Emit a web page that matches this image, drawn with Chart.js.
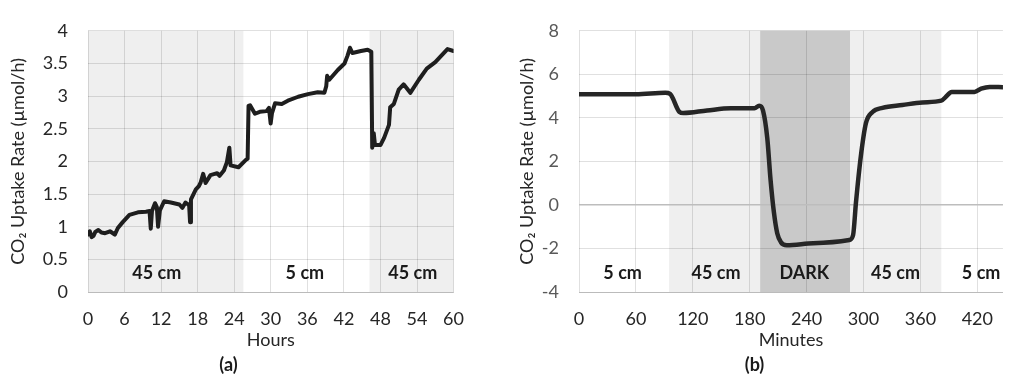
<!DOCTYPE html>
<html>
<head>
<meta charset="utf-8">
<script src="https://cdn.jsdelivr.net/npm/chart.js@4/dist/chart.umd.min.js"></script>
<style>
  html, body { margin: 0; padding: 0; background: #fff; width: 1009px; height: 376px; overflow: hidden; }
  canvas { position: absolute; top: 0; }
  #ca { left: 0; }
  #cb { left: 500px; }
</style>
</head>
<body>
<canvas id="ca" width="480" height="376"></canvas>
<canvas id="cb" width="509" height="376"></canvas>
<script>
// ---------- Chart (a) data ----------
const hoursA = [0, 0.3, 0.6, 0.9, 1.2, 1.7, 2.2, 2.8, 3.6, 4.4, 4.9, 5.7, 6.8, 8.2, 9.5, 10.1, 10.3, 10.5, 11.0, 11.3,
  11.5, 11.8, 12.5, 13.6, 15.0, 15.5, 16.0, 16.6, 16.75, 16.9, 17.7, 18.2, 18.5, 18.9, 19.3, 20.1, 21.2, 21.6, 22.3, 22.8,
  23.2, 23.4, 24.7, 26.0, 26.2, 26.35, 26.6, 27.4, 28.2, 29.3, 29.7, 29.98, 30.2, 30.7, 31.8, 32.8, 34.5, 36.1, 37.7, 38.8,
  39.1, 39.25, 39.6, 41.0, 42.1, 42.6, 43.0, 43.4, 44.8, 45.9, 46.5, 46.65, 46.9, 47.1, 48.0, 48.6, 49.4, 49.6, 50.2, 51.0,
  51.8, 52.9, 54.3, 55.6, 57.0, 58.0, 59.0, 60.0];
const rateA = [0.88, 0.93, 0.84, 0.86, 0.92, 0.95, 0.91, 0.90, 0.93, 0.88, 0.98, 1.07, 1.18, 1.22, 1.23, 1.24, 0.97, 1.24, 1.36, 1.30,
  1.00, 1.25, 1.39, 1.37, 1.34, 1.29, 1.37, 1.33, 1.07, 1.42, 1.57, 1.62, 1.68, 1.81, 1.67, 1.79, 1.82, 1.78, 1.86, 1.99,
  2.21, 1.94, 1.91, 2.03, 2.04, 2.85, 2.86, 2.73, 2.76, 2.77, 2.82, 2.58, 2.74, 2.89, 2.88, 2.93, 2.99, 3.03, 3.06, 3.05,
  3.15, 3.31, 3.25, 3.40, 3.50, 3.62, 3.74, 3.66, 3.69, 3.71, 3.68, 2.21, 2.43, 2.25, 2.25, 2.36, 2.56, 2.83, 2.88, 3.10,
  3.18, 3.05, 3.25, 3.42, 3.52, 3.62, 3.72, 3.69];
const xTicksA = [0, 6, 12, 18, 24, 30, 36, 42, 48, 54, 60];
const yTicksA = [0, 0.5, 1, 1.5, 2, 2.5, 3, 3.5, 4];
const bandStartA = [0, 25.5, 46.2];
const bandEndA = [25.5, 46.2, 60];
const bandKindA = ['light', 'none', 'light'];
const bandLabelA = ['45 cm', '5 cm', '45 cm'];
const bandLabelXA = [11.3, 35.6, 53.3];

// ---------- Chart (b) data ----------
const minutesB = [0, 30, 60, 91, 96, 106, 110, 135, 160, 185, 190, 194, 198.5, 202, 205.5, 209, 213, 219, 247, 285,
  289, 292, 297, 302.5, 309.5, 320, 341, 362, 382, 386, 393, 417, 424, 433, 447];
const rateB = [5.08, 5.08, 5.08, 5.15, 5.10, 4.27, 4.22, 4.34, 4.44, 4.44, 4.56, 4.34, 3.08, 1.14, -0.34, -1.30, -1.72, -1.85, -1.76, -1.61,
  -1.38, 0.10, 2.18, 3.75, 4.27, 4.46, 4.59, 4.71, 4.79, 4.93, 5.19, 5.19, 5.34, 5.42, 5.41];
const xTicksB = [0, 60, 120, 180, 240, 300, 360, 420];
const yTicksB = [-4, -2, 0, 2, 4, 6, 8];
const bandStartB = [0, 95, 191, 286, 382];
const bandEndB = [95, 191, 286, 382, 447];
const bandKindB = ['none', 'light', 'dark', 'light', 'none'];
const bandLabelB = ['5 cm', '45 cm', 'DARK', '45 cm', '5 cm'];
const bandLabelXB = [46, 144.5, 237.6, 333.8, 424];

const FONT = 'Lato, "Open Sans", "DejaVu Sans", sans-serif';
const bandColors = { light: '#efefef', dark: '#c9c9c9', none: null };

function bandsPlugin(starts, ends, kinds, labels, labelXs) {
  return {
    id: 'bands',
    beforeDraw(chart) {
      const { ctx, chartArea } = chart;
      const xs = chart.scales.x;
      ctx.save();
      for (let i = 0; i < starts.length; i++) {
        const c = bandColors[kinds[i]];
        if (!c) continue;
        const x0 = xs.getPixelForValue(starts[i]);
        const x1 = xs.getPixelForValue(ends[i]);
        ctx.fillStyle = c;
        ctx.fillRect(x0, chartArea.top, x1 - x0, chartArea.bottom - chartArea.top);
      }
      ctx.restore();
    },
    afterDatasetsDraw(chart) {
      const { ctx, chartArea } = chart;
      const xs = chart.scales.x;
      ctx.save();
      ctx.font = 'bold 18px ' + FONT;
      ctx.fillStyle = '#1a1a1a';
      ctx.textAlign = 'center';
      ctx.textBaseline = 'middle';
      for (let i = 0; i < labels.length; i++) {
        ctx.fillText(labels[i], xs.getPixelForValue(labelXs[i]), chartArea.bottom - 19);
      }
      ctx.restore();
    }
  };
}

function makeChart(id, opts) {
  const pts = opts.xs.map((x, i) => ({ x: x, y: opts.ys[i] }));
  return new Chart(document.getElementById(id), {
    type: 'line',
    data: { datasets: [{
      data: pts,
      borderColor: opts.lineColor,
      borderWidth: opts.lineWidth,
      borderJoinStyle: 'round',
      borderCapStyle: 'round',
      pointRadius: 0,
      tension: opts.smooth ? 0.4 : 0,
      cubicInterpolationMode: opts.smooth ? 'monotone' : 'default',
      fill: false
    }] },
    options: {
      responsive: false,
      animation: false,
      layout: { padding: { top: 23, right: opts.padRight, left: 0, bottom: 0 } },
      plugins: {
        legend: { display: false },
        tooltip: { enabled: false },
        title: {
          display: true, position: 'bottom', text: opts.caption,
          color: '#1a1a1a', font: { family: FONT, size: 18, weight: 'bold' },
          padding: { top: 3, bottom: 0 }
        }
      },
      scales: {
        x: {
          type: 'linear', min: opts.xMin, max: opts.xMax,
          afterBuildTicks: s => { s.ticks = opts.xTicks.map(v => ({ value: v })); },
          afterFit: s => { s.height = 59.4; },
          ticks: { padding: 16, color: '#262626', font: { family: FONT, size: 18 }, maxRotation: 0,
                   callback: v => String(v) },
          grid: { drawTicks: false, color: 'rgba(0,0,0,0.12)', lineWidth: 1 },
          border: { display: true, color: 'rgba(0,0,0,0.17)', width: 1 },
          title: { display: true, text: opts.xTitle, color: '#262626', font: { family: FONT, size: 18 }, padding: { top: 0, bottom: 0 } }
        },
        y: {
          type: 'linear', min: opts.yMin, max: opts.yMax,
          afterBuildTicks: s => { s.ticks = opts.yTicks.map(v => ({ value: v })); },
          afterFit: s => { s.width = opts.yWidth; },
          ticks: { padding: 20, color: opts.yTickColor, font: { family: FONT, size: 18 }, callback: v => String(v) },
          grid: {
            drawTicks: false,
            color: c => (opts.zeroLine && c.tick && c.tick.value === 0) ? '#bdbdbd' : 'rgba(0,0,0,0.12)',
            lineWidth: c => (opts.zeroLine && c.tick && c.tick.value === 0) ? 1.6 : 1
          },
          border: { display: false },
          title: { display: true, text: 'CO\u2082 Uptake Rate (\u00b5mol/h)', color: '#262626',
                   font: { family: FONT, size: 18 }, padding: { top: opts.yTitlePad, bottom: 0 } }
        }
      }
    },
    plugins: [bandsPlugin(opts.bStart, opts.bEnd, opts.bKind, opts.bLabel, opts.bLabelX)]
  });
}

makeChart('ca', {
  xs: hoursA, ys: rateA, xTicks: xTicksA, yTicks: yTicksA,
  xMin: 0, xMax: 60, yMin: 0, yMax: 4, padRight: 23, yWidth: 88, yTitlePad: 7,
  xTitle: 'Hours', caption: '(a)', lineColor: '#1e1e1e', lineWidth: 4, smooth: false,
  yTickColor: '#262626', zeroLine: false,
  bStart: bandStartA, bEnd: bandEndA, bKind: bandKindA, bLabel: bandLabelA, bLabelX: bandLabelXA
});

makeChart('cb', {
  xs: minutesB, ys: rateB, xTicks: xTicksB, yTicks: yTicksB,
  xMin: 0, xMax: 447, yMin: -4, yMax: 8, padRight: 0, yWidth: 79, yTitlePad: 16,
  xTitle: 'Minutes', caption: '(b)', lineColor: '#262626', lineWidth: 4.5, smooth: true,
  yTickColor: '#595959', zeroLine: true,
  bStart: bandStartB, bEnd: bandEndB, bKind: bandKindB, bLabel: bandLabelB, bLabelX: bandLabelXB
});
</script>
</body>
</html>
